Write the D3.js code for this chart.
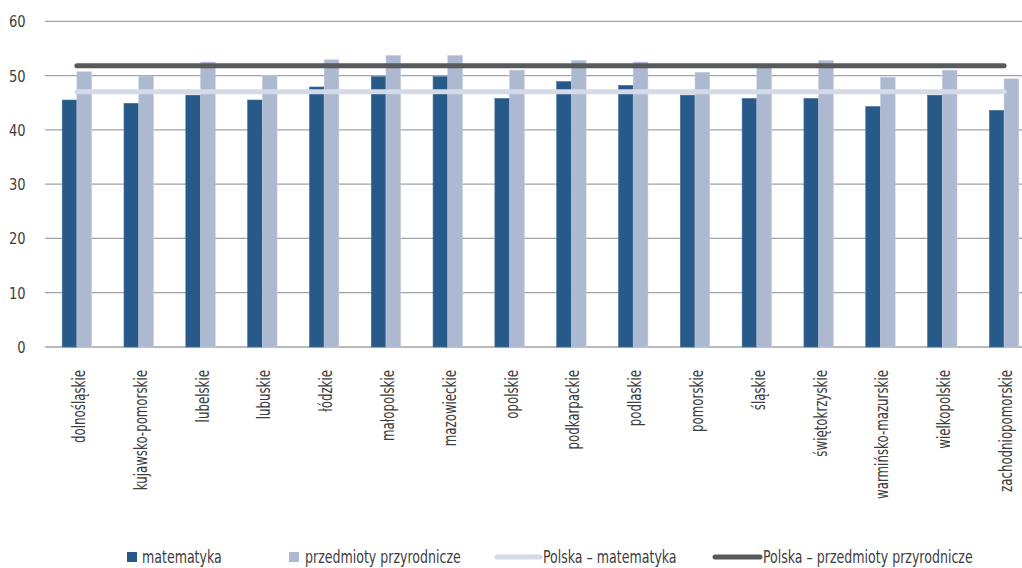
<!DOCTYPE html>
<html><head><meta charset="utf-8">
<script src="https://cdn.jsdelivr.net/npm/d3@7"></script>
<style>
html,body{margin:0;padding:0;background:#fff;}
svg text{font-family:"DejaVu Sans Condensed","Liberation Sans Narrow",sans-serif;fill:#3d3d3d;}
</style></head><body>
<svg id="c" width="1022" height="568"></svg>
<script>
const categories = ["dolnośląskie","kujawsko-pomorskie","lubelskie","lubuskie","łódzkie","małopolskie","mazowieckie","opolskie","podkarpackie","podlaskie","pomorskie","śląskie","świętokrzyskie","warmińsko-mazurskie","wielkopolskie","zachodniopomorskie"];
const matematyka = [45.5,44.9,46.4,45.5,47.9,49.8,49.8,45.8,48.9,48.2,46.4,45.8,45.8,44.3,46.4,43.6];
const przyrodnicze = [50.7,49.9,52.5,50.0,52.9,53.7,53.7,51.0,52.8,52.5,50.6,51.6,52.8,49.7,51.0,49.4];
const polskaMat = 47.0;
const polskaPrzyr = 51.8;
const yTicks = [0,10,20,30,40,50,60];
const legendLabels = ["matematyka","przedmioty przyrodnicze","Polska – matematyka","Polska – przedmioty przyrodnicze"];

const svg = d3.select("#c");
const y = d3.scaleLinear().domain([0,60]).range([347,21.3]);
const x0 = d3.scaleBand().domain(categories).range([46,1035]).padding(0);
const x1 = d3.scaleBand().domain(["m","p"]).range([0,x0.bandwidth()]).paddingInner(0).paddingOuter(1.1);
const colM = "#275a89", colP = "#adb9d0", colLM = "#d5dae8", colLP = "#58595b";

// grid
svg.append("g").selectAll("line").data(yTicks).join("line")
  .attr("x1",45).attr("x2",1022)
  .attr("y1",d=>y(d)).attr("y2",d=>y(d))
  .attr("stroke","#a3a3a3").attr("stroke-width",1.3);

// y labels
svg.append("g").selectAll("text").data(yTicks).join("text")
  .attr("transform",d=>`translate(25.5,${y(d)+6}) scale(0.88,1)`)
  .attr("text-anchor","end").attr("font-size",16.5).text(d=>d);

// bars
const g = svg.append("g");
categories.forEach((c,i)=>{
  g.append("rect").attr("x",x0(c)+x1("m")).attr("width",x1.bandwidth())
    .attr("y",y(matematyka[i])).attr("height",y(0)-y(matematyka[i]))
    .attr("fill",colM).attr("stroke","#4a7199").attr("stroke-width",0.6);
  g.append("rect").attr("x",x0(c)+x1("p")).attr("width",x1.bandwidth())
    .attr("y",y(przyrodnicze[i])).attr("height",y(0)-y(przyrodnicze[i]))
    .attr("fill",colP).attr("stroke","#c3cddd").attr("stroke-width",0.6);
});

// reference lines
const line = d3.line().x(d=>x0(d.c)+x0.bandwidth()/2).y(d=>y(d.v));
svg.append("path").datum(categories.map(c=>({c,v:polskaPrzyr})))
  .attr("d",line).attr("fill","none").attr("stroke",colLP).attr("stroke-width",5).attr("stroke-linecap","round");
svg.append("path").datum(categories.map(c=>({c,v:polskaMat})))
  .attr("d",line).attr("fill","none").attr("stroke",colLM).attr("stroke-width",5).attr("stroke-linecap","round");

// x labels
svg.append("g").selectAll("text").data(categories).join("text")
  .attr("transform",d=>`translate(${x0(d)+x0.bandwidth()/2+8},370) rotate(-90) scale(0.73,1)`)
  .attr("text-anchor","end").attr("font-size",18).text(d=>d);

// legend
const leg = svg.append("g");
const ly = 557;
const lt = (x,t)=>leg.append("text").attr("transform",`translate(${x},${ly+6}) scale(0.8,1)`).attr("font-size",17.5).text(t);
leg.append("rect").attr("x",127).attr("y",ly-5).attr("width",10).attr("height",10).attr("fill",colM);
lt(142,legendLabels[0]);
leg.append("rect").attr("x",289).attr("y",ly-5).attr("width",10).attr("height",10).attr("fill",colP);
lt(305,legendLabels[1]);
leg.append("line").attr("x1",497).attr("x2",540).attr("y1",ly).attr("y2",ly).attr("stroke",colLM).attr("stroke-width",5).attr("stroke-linecap","round");
lt(543,legendLabels[2]);
leg.append("line").attr("x1",715).attr("x2",760).attr("y1",ly).attr("y2",ly).attr("stroke",colLP).attr("stroke-width",5).attr("stroke-linecap","round");
lt(763,legendLabels[3]);
</script>
</body></html>
